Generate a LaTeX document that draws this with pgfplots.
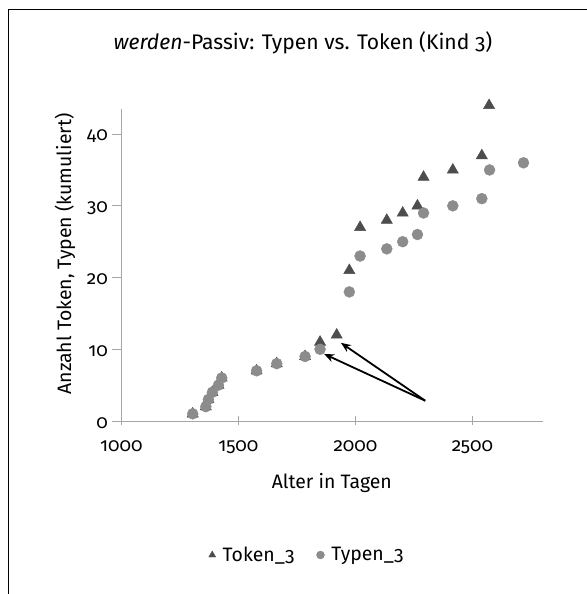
\documentclass[border=0pt]{standalone}
\usepackage{pgfplots}
\pgfplotsset{compat=1.18}
\usetikzlibrary{arrows.meta}
\usepackage{fontspec}
\setmainfont{Fira Sans}[Numbers=OldStyle]
\definecolor{tokc}{HTML}{4D4D4D}
\definecolor{typc}{HTML}{8C8C8C}
\definecolor{axc}{HTML}{A6A6A6}
\begin{document}
\begin{tikzpicture}
\useasboundingbox (0,0) rectangle (587bp,594bp);
\draw[black, line width=0.9bp] (8bp,-10bp) -- (8bp,585bp) -- (600bp,585bp);
\begin{axis}[
  at={(121.3bp,173bp)}, anchor=south west,
  scale only axis, width=421.4bp, height=312bp,
  xmin=1000, xmax=2800, ymin=0, ymax=43.5,
  xtick={1000,1500,2000,2500}, ytick={0,10,20,30,40},
  axis x line=bottom, axis y line=left,
  axis line style={-, draw=axc, line width=0.9bp},
  tick style={draw=axc, line width=0.9bp},
  major tick length=9bp, tick align=outside,
  x tick style={yshift=4.5bp},
  /pgf/number format/assume math mode=true,
  /pgf/number format/1000 sep={},
  ticklabel style={font=\fontsize{19}{21}\selectfont},
  xticklabel style={yshift=-7bp},
  yticklabel style={xshift=-1bp, yshift=-2bp},
  title={\textit{werden}-Passiv: Typen vs. Token (Kind 3)},
  title style={at={(rel axis cs:0.431,1.192)}, anchor=center, font=\fontsize{21.2}{24}\selectfont},
  xlabel={Alter in Tagen},
  ylabel={Anzahl Token, Typen (kumuliert)},
  every axis x label/.style={at={(rel axis cs:0.4995,-0.199)}, anchor=center, font=\fontsize{19.5}{22}\selectfont},
  every axis y label/.style={at={(rel axis cs:-0.1335,0.074)}, rotate=90, anchor=west, font=\fontsize{19.5}{22}\selectfont},
  legend style={at={(rel axis cs:0.20,-0.4295)}, anchor=west, draw=none, fill=none,
    font=\fontsize{19.5}{22}\selectfont, legend columns=2,
    /tikz/every odd column/.append style={column sep=5bp},
    /tikz/every even column/.append style={column sep=20bp}},
  legend image post style={mark size=4bp},
  clip=false,
]
\addplot[only marks, mark=triangle*, mark size=6.5bp, draw=tokc, fill=tokc] coordinates {
(1305,1) (1361,2) (1372,3) (1389,4) (1415,5) (1429,6) (1578,7) (1664,8) (1785,9)
(1849,11) (1920,12) (1974,21) (2020,27) (2134,28) (2202,29) (2265,30) (2291,34)
(2416,35) (2540,37) (2571,44)
};
\addlegendentry{Token\_3}
\addplot[only marks, mark=*, mark size=5.5bp, draw=typc, fill=typc] coordinates {
(1305,1) (1361,2) (1372,3) (1389,4) (1415,5) (1429,6) (1578,7) (1664,8) (1785,9)
(1849,10) (1974,18) (2020,23) (2134,24) (2202,25) (2265,26) (2291,29)
(2416,30) (2540,31) (2573,35) (2718,36)
};
\addlegendentry{Typen\_3}
\draw[black, line width=1.8bp, -{Stealth[length=10bp, width=8bp]}] (axis cs:2298,2.83) -- (axis cs:1938,10.9);
\draw[black, line width=1.8bp, -{Stealth[length=10bp, width=8bp]}] (axis cs:2298,2.83) -- (axis cs:1866,9.35);
\end{axis}
\end{tikzpicture}
\end{document}
